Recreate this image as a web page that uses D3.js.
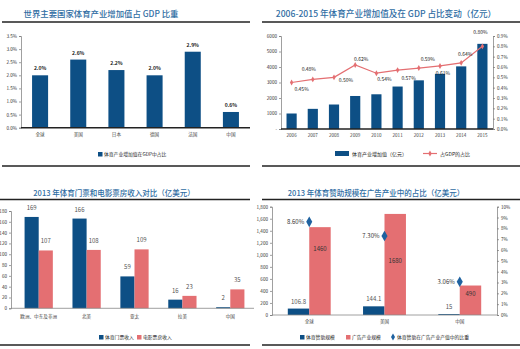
<!DOCTYPE html>
<html>
<head>
<meta charset="utf-8">
<script src="https://cdn.jsdelivr.net/npm/d3@7"></script>
<style>
  body { margin: 0; background: #fff; }
  svg text { font-family: "Noto Sans CJK SC", "Noto Sans", sans-serif; }
</style>
</head>
<body>
<div id="chart"></div>
<script>
// 世界主要国家体育产业增加值占 GDP 比重
const gdpCountries = ["全球", "美国", "日本", "德国", "法国", "中国"];
const gdpShare = [2.0, 2.6, 2.2, 2.0, 2.9, 0.6];
const gdpTicks = [0, 0.5, 1.0, 1.5, 2.0, 2.5, 3.0, 3.5];

// 2006-2015 体育产业增加值（亿元）及占 GDP 比重（%）
const years = ["2006", "2007", "2008", "2009", "2010", "2011", "2012", "2013", "2014", "2015"];
const addedValue = [1000, 1300, 1580, 2130, 2240, 2740, 3140, 3560, 4040, 5494];
const gdpRatio = [0.45, 0.48, 0.50, 0.62, 0.54, 0.57, 0.59, 0.61, 0.64, 0.80];
const valueTicks = [0, 1000, 2000, 3000, 4000, 5000, 6000];
const ratioTicks = [0, 0.1, 0.2, 0.3, 0.4, 0.5, 0.6, 0.7, 0.8, 0.9];

// 2013 体育门票和电影票房收入（亿美元）
const regions = ["欧洲、中东及非洲", "北美", "亚太", "拉美", "中国"];
const ticketRevenue = [169, 166, 59, 16, 2];
const boxOffice = [107, 108, 109, 23, 35];
const revenueTicks = [0, 20, 40, 60, 80, 100, 120, 140, 160, 180];

// 2013 体育赞助规模与广告产业规模（亿美元）
const sponsorRegions = ["全球", "美国", "中国"];
const sponsorship = [106.8, 144.1, 15];
const adIndustry = [1460, 1680, 490];
const sponsorShare = [8.60, 7.30, 3.06];
const adTicks = [0, 200, 400, 600, 800, 1000, 1200, 1400, 1600, 1800];
const shareTicks = [0, 1, 2, 3, 4, 5, 6, 7, 8, 9, 10];

const BLUE = "#0d4f85", RED = "#e46f72", TITLE = "#2f6da3";

const svg = d3.select("#chart").append("svg")
    .attr("width", 520).attr("height", 349);

function panelFrame(title, cx, ty, size, x0, x1, lineY, bottomY) {
  svg.append("text").attr("x", cx).attr("y", ty)
    .attr("text-anchor", "middle").attr("font-size", size)
    .attr("fill", TITLE).attr("font-weight", 500).text(title);
  [lineY, bottomY].forEach(y => {
    svg.append("line").attr("x1", x0).attr("x2", x1).attr("y1", y).attr("y2", y)
      .attr("stroke", "#222").attr("stroke-width", 1.6);
  });
}

function yAxis(scale, x, ticks, fmt, side) {
  const ax = (side === "right" ? d3.axisRight(scale) : d3.axisLeft(scale))
    .tickValues(ticks).tickFormat(fmt).tickSize(2).tickPadding(2);
  const g = svg.append("g").attr("transform", `translate(${x},0)`).call(ax);
  g.select(".domain").attr("stroke", "#777").attr("stroke-width", 0.7);
  g.selectAll(".tick line").attr("stroke", "#777").attr("stroke-width", 0.7);
  g.selectAll("text").attr("font-size", 4.6).attr("fill", "#333");
  return g;
}

function xAxis(scale, y, x0, x1, labelY, thick) {
  svg.append("line").attr("x1", x0).attr("x2", x1).attr("y1", y).attr("y2", y)
    .attr("stroke", thick ? "#222" : "#888").attr("stroke-width", thick ? 1.6 : 0.8);
  svg.append("g").selectAll("text").data(scale.domain()).join("text")
    .attr("x", d => scale(d) + scale.bandwidth() / 2).attr("y", labelY)
    .attr("text-anchor", "middle").attr("font-size", 4.6).attr("fill", "#444")
    .text(d => d);
}

function legendBox(x, y, color, label) {
  svg.append("rect").attr("x", x).attr("y", y - 4).attr("width", 4.5).attr("height", 4.5).attr("fill", color);
  svg.append("text").attr("x", x + 6).attr("y", y).attr("font-size", 4.8).attr("fill", "#222").text(label);
}

// ---- panel 1 ----
(function () {
  panelFrame("世界主要国家体育产业增加值占 GDP 比重", 101, 17, 8.4, 2, 250, 22, 166);
  const x = d3.scaleBand().domain(gdpCountries).range([21, 250]).paddingInner(0.58).paddingOuter(0.29);
  const y = d3.scaleLinear().domain([0, 3.5]).range([127.7, 36]);
  yAxis(y, 21, gdpTicks, d => d.toFixed(1) + "%");
  svg.append("g").selectAll("rect").data(gdpShare).join("rect")
    .attr("x", (d, i) => x(gdpCountries[i])).attr("width", x.bandwidth())
    .attr("y", d => y(d)).attr("height", d => y(0) - y(d)).attr("fill", BLUE);
  svg.append("g").selectAll("text").data(gdpShare).join("text")
    .attr("x", (d, i) => x(gdpCountries[i]) + x.bandwidth() / 2).attr("y", d => y(d) - 5)
    .attr("text-anchor", "middle").attr("font-size", 5).attr("font-weight", "bold").attr("fill", "#222")
    .text(d => d.toFixed(1) + "%");
  xAxis(x, 127.7, 21, 250, 136, true);
  legendBox(98, 156, BLUE, "体育产业增加值在GDP中占比");
})();

// ---- panel 2 ----
(function () {
  panelFrame("2006-2015 年体育产业增加值及在 GDP 占比变动（亿元）", 386, 17, 8.6, 262, 520, 22, 166);
  const x = d3.scaleBand().domain(years).range([281, 493]).paddingInner(0.52).paddingOuter(0.26);
  const y = d3.scaleLinear().domain([0, 6000]).range([129, 36]);
  const y2 = d3.scaleLinear().domain([0, 0.9]).range([129, 36]);
  yAxis(y, 281, valueTicks, d => d === 0 ? "-" : d);
  yAxis(y2, 493, ratioTicks, d => d.toFixed(1) + "%", "right");
  svg.append("g").selectAll("rect").data(addedValue).join("rect")
    .attr("x", (d, i) => x(years[i])).attr("width", x.bandwidth())
    .attr("y", d => y(d)).attr("height", d => y(0) - y(d)).attr("fill", BLUE);
  xAxis(x, 129, 281, 493, 137, true);
  const cx = i => x(years[i]) + x.bandwidth() / 2;
  const line = d3.line().x((d, i) => cx(i)).y(d => y2(d));
  svg.append("path").datum(gdpRatio).attr("d", line)
    .attr("fill", "none").attr("stroke", RED).attr("stroke-width", 1.2);
  svg.append("g").selectAll("path").data(gdpRatio).join("path")
    .attr("d", d3.symbol(d3.symbolDiamond, 10))
    .attr("transform", (d, i) => `translate(${cx(i)},${y2(d)})`).attr("fill", RED);
  // label offsets relative to each point
  const off = [[10, 8], [-4, -8], [12, 5], [6, -4], [8, 8], [11, 10], [9, -7], [3, 9], [4, -7], [-2, -12]];
  svg.append("g").selectAll("text").data(gdpRatio).join("text")
    .attr("x", (d, i) => cx(i) + off[i][0]).attr("y", (d, i) => y2(d) + off[i][1])
    .attr("text-anchor", "middle").attr("font-size", 5).attr("fill", "#222")
    .text(d => d.toFixed(2) + "%");
  // legend
  svg.append("rect").attr("x", 335).attr("y", 151).attr("width", 14).attr("height", 5).attr("fill", BLUE);
  svg.append("text").attr("x", 352).attr("y", 156).attr("font-size", 5).attr("fill", "#222").text("体育产业增加值（亿元）");
  svg.append("line").attr("x1", 423).attr("x2", 437).attr("y1", 153.5).attr("y2", 153.5).attr("stroke", RED).attr("stroke-width", 1.2);
  svg.append("path").attr("d", d3.symbol(d3.symbolDiamond, 10)).attr("transform", "translate(430,153.5)").attr("fill", RED);
  svg.append("text").attr("x", 440).attr("y", 156).attr("font-size", 5).attr("fill", "#222").text("占GDP的占比");
})();

// ---- panel 3 ----
(function () {
  panelFrame("2013 年体育门票和电影票房收入对比（亿美元）", 114, 196, 7.5, 0, 250, 199.5, 345);
  const x = d3.scaleBand().domain(regions).range([15, 254]).paddingInner(0.41).paddingOuter(0.2);
  const y = d3.scaleLinear().domain([0, 180]).range([308.3, 211]);
  yAxis(y, 11, revenueTicks, d => d);
  const half = x.bandwidth() / 2;
  const series = [[ticketRevenue, BLUE, 0], [boxOffice, RED, 1]];
  series.forEach(([vals, color, k]) => {
    svg.append("g").selectAll("rect").data(vals).join("rect")
      .attr("x", (d, i) => x(regions[i]) + k * half).attr("width", half)
      .attr("y", d => y(d)).attr("height", d => y(0) - y(d)).attr("fill", color);
    svg.append("g").selectAll("text").data(vals).join("text")
      .attr("x", (d, i) => x(regions[i]) + k * half + half / 2).attr("y", d => y(d) - 7)
      .attr("text-anchor", "middle").attr("font-size", 6).attr("fill", "#555").text(d => d);
  });
  xAxis(x, 308.3, 11, 254, 318, false);
  legendBox(99, 339, BLUE, "体育门票收入");
  legendBox(137, 339, RED, "电影票房收入");
})();

// ---- panel 4 ----
(function () {
  panelFrame("2013 年体育赞助规模在广告产业中的占比（亿美元）", 376, 196, 7.5, 262, 520, 199.5, 345);
  const x = d3.scaleBand().domain(sponsorRegions).range([272, 497]).paddingInner(0.43).paddingOuter(0.21);
  const y = d3.scaleLinear().domain([0, 1800]).range([315, 206.7]);
  const y2 = d3.scaleLinear().domain([0, 10]).range([315, 206.7]);
  yAxis(y, 272, adTicks, d3.format(","));
  yAxis(y2, 497, shareTicks, d => d + "%", "right");
  const half = x.bandwidth() / 2;
  svg.append("g").selectAll("rect").data(sponsorship).join("rect")
    .attr("x", (d, i) => x(sponsorRegions[i])).attr("width", half)
    .attr("y", d => y(d)).attr("height", d => y(0) - y(d)).attr("fill", BLUE);
  svg.append("g").selectAll("text").data(sponsorship).join("text")
    .attr("x", (d, i) => x(sponsorRegions[i]) + half / 2).attr("y", d => y(d) - 5)
    .attr("text-anchor", "middle").attr("font-size", 6).attr("fill", "#555").text(d => d);
  svg.append("g").selectAll("rect").data(adIndustry).join("rect")
    .attr("x", (d, i) => x(sponsorRegions[i]) + half).attr("width", half)
    .attr("y", d => y(d)).attr("height", d => y(0) - y(d)).attr("fill", RED);
  const inside = [24, 49, 10];
  svg.append("g").selectAll("text").data(adIndustry).join("text")
    .attr("x", (d, i) => x(sponsorRegions[i]) + half * 1.5).attr("y", (d, i) => y(d) + inside[i])
    .attr("text-anchor", "middle").attr("font-size", 6).attr("fill", "#333").text(d => d);
  xAxis(x, 315, 272, 497, 323, false);
  const cx = i => x(sponsorRegions[i]) + half;
  svg.append("g").selectAll("path").data(sponsorShare).join("path")
    .attr("d", d3.symbol(d3.symbolDiamond, 32))
    .attr("transform", (d, i) => `translate(${cx(i)},${y2(d)})`).attr("fill", "#1f62a0");
  svg.append("g").selectAll("text").data(sponsorShare).join("text")
    .attr("x", (d, i) => cx(i) - 5).attr("y", d => y2(d) + 2)
    .attr("text-anchor", "end").attr("font-size", 6).attr("fill", "#333")
    .text(d => d.toFixed(2) + "%");
  legendBox(300, 339, BLUE, "体育赞助规模");
  legendBox(346, 339, RED, "广告产业规模");
  svg.append("path").attr("d", d3.symbol(d3.symbolDiamond, 14)).attr("transform", "translate(393,337)").attr("fill", "#1f62a0");
  svg.append("text").attr("x", 397).attr("y", 339).attr("font-size", 4.8).attr("fill", "#222").text("体育赞助在广告产业产值中的比重");
})();
</script>
</body>
</html>
